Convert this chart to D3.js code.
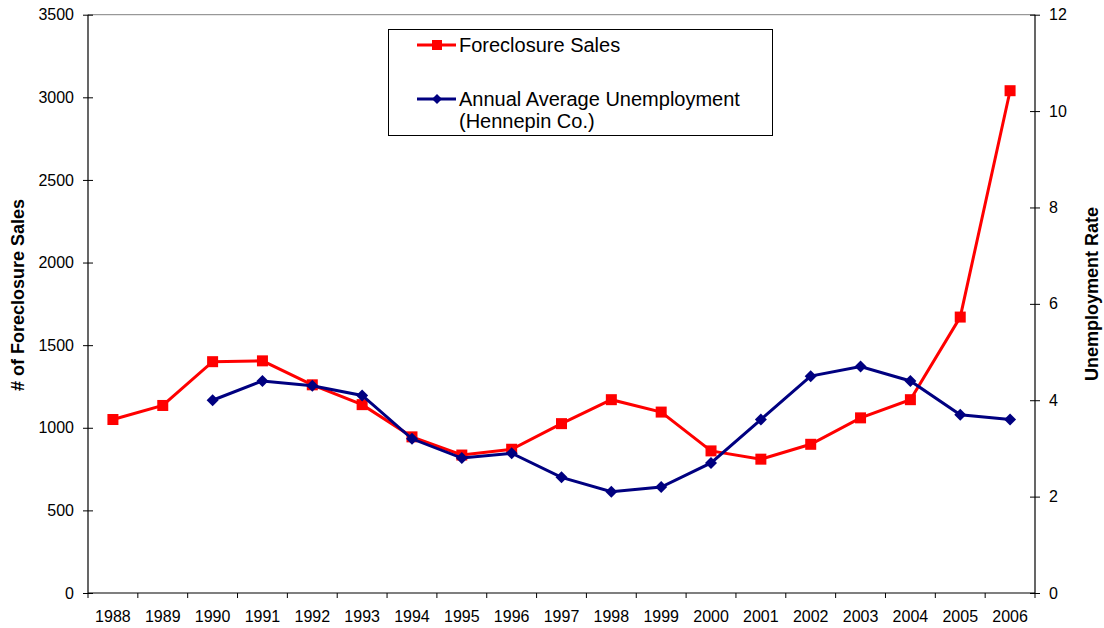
<!DOCTYPE html>
<html>
<head>
<meta charset="utf-8">
<script src="https://cdn.jsdelivr.net/npm/d3@7"></script>
<style>
  body { margin: 0; background: #fff; }
  text { font-family: "Liberation Sans", Arial, sans-serif; fill: #000; }
</style>
</head>
<body>
<svg id="chart" width="1104" height="628"></svg>
<script>
var years = ["1988","1989","1990","1991","1992","1993","1994","1995","1996","1997",
             "1998","1999","2000","2001","2002","2003","2004","2005","2006"]
var foreclosures = [1050,1135,1400,1405,1260,1140,945,835,870,1025,
                    1170,1095,860,810,900,1060,1170,1670,3040]
// unemployment starts in 1990
var unemp_years = years.slice(2)
var unemployment = [4.0,4.4,4.3,4.1,3.2,2.8,2.9,2.4,2.1,2.2,2.7,3.6,4.5,4.7,4.4,3.7,3.6]
var left_ticks = [0,500,1000,1500,2000,2500,3000,3500]
var right_ticks = [0,2,4,6,8,10,12]

var svg = d3.select("#chart")
var plot_l = 88, plot_r = 1035, plot_t = 14.7, plot_b = 593

var x = d3.scaleBand().domain(years).range([plot_l, plot_r])
var yL = d3.scaleLinear().domain([0, 3500]).range([plot_b, plot_t])
var yR = d3.scaleLinear().domain([0, 12]).range([plot_b, plot_t])

// plot border top
svg.append("line")
  .attr("x1", plot_l).attr("x2", plot_r)
  .attr("y1", plot_t).attr("y2", plot_t)
  .attr("stroke", "#808080").attr("stroke-width", 1)

// left axis
var gl = svg.append("g").attr("transform", `translate(${plot_l},0)`)
  .call(d3.axisLeft(yL).tickValues(left_ticks).tickSize(5).tickPadding(9).tickFormat(d3.format("d")))
gl.selectAll(".tick line").attr("x2", 5).attr("x1", -5)
// right axis
var gr = svg.append("g").attr("transform", `translate(${plot_r},0)`)
  .call(d3.axisRight(yR).tickValues(right_ticks).tickSize(5).tickPadding(9))
gr.selectAll(".tick line").attr("x1", -5).attr("x2", 5)
// bottom axis: ticks between categories
var gb = svg.append("g").attr("transform", `translate(0,${plot_b})`)
  .call(d3.axisBottom(x).tickSize(0).tickPadding(18))
gb.selectAll(".tick line").remove()
gb.selectAll(".tick-sep")
  .data(years.concat(["end"]))
  .enter().append("line")
  .attr("x1", (d, i) => plot_l + i * x.bandwidth())
  .attr("x2", (d, i) => plot_l + i * x.bandwidth())
  .attr("y1", 0).attr("y2", 5)
  .attr("stroke", "#000")

;[gl, gr, gb].forEach(g => {
  g.select(".domain").attr("stroke", "#000").attr("stroke-width", 1.2)
  g.selectAll(".tick line").attr("stroke", "#000")
  g.selectAll("text").style("font-size", "16px").attr("font-family", "Liberation Sans, Arial, sans-serif")
})
gl.select(".domain").attr("d", `M0,${plot_t}V${plot_b}`)
gr.select(".domain").attr("d", `M0,${plot_t}V${plot_b}`)
gb.select(".domain").attr("d", `M${plot_l},0H${plot_r}`)

// axis titles
svg.append("text")
  .attr("transform", "translate(24,295) rotate(-90)")
  .attr("text-anchor", "middle")
  .style("font-size", "18px").style("font-weight", "bold")
  .text("# of Foreclosure Sales")
svg.append("text")
  .attr("transform", "translate(1098,294) rotate(-90)")
  .attr("text-anchor", "middle")
  .style("font-size", "18px").style("font-weight", "bold")
  .text("Unemployment Rate")

var cx = d => x(d) + x.bandwidth() / 2

// foreclosure line
svg.append("path")
  .datum(foreclosures)
  .attr("fill", "none").attr("stroke", "#ff0000").attr("stroke-width", 3)
  .attr("d", d3.line().x((d, i) => cx(years[i])).y(d => yL(d)))
svg.selectAll(".sq")
  .data(foreclosures)
  .enter().append("rect")
  .attr("class", "sq")
  .attr("x", (d, i) => cx(years[i]) - 5.5)
  .attr("y", d => yL(d) - 5.5)
  .attr("width", 11).attr("height", 11)
  .attr("fill", "#ff0000")

// unemployment line
svg.append("path")
  .datum(unemployment)
  .attr("fill", "none").attr("stroke", "#000080").attr("stroke-width", 3)
  .attr("d", d3.line().x((d, i) => cx(unemp_years[i])).y(d => yR(d)))
svg.selectAll(".dia")
  .data(unemployment)
  .enter().append("path")
  .attr("class", "dia")
  .attr("transform", (d, i) => `translate(${cx(unemp_years[i])},${yR(d)})`)
  .attr("d", "M0,-6L6,0L0,6L-6,0Z")
  .attr("fill", "#000080")

// legend
var lg = svg.append("g")
lg.append("rect")
  .attr("x", 388.5).attr("y", 29.5).attr("width", 384).attr("height", 106)
  .attr("fill", "#fff").attr("stroke", "#000").attr("stroke-width", 1)
lg.append("line").attr("x1", 417).attr("x2", 456).attr("y1", 45).attr("y2", 45)
  .attr("stroke", "#ff0000").attr("stroke-width", 3)
lg.append("rect").attr("x", 432).attr("y", 40).attr("width", 10).attr("height", 10)
  .attr("fill", "#ff0000")
lg.append("line").attr("x1", 417).attr("x2", 456).attr("y1", 99).attr("y2", 99)
  .attr("stroke", "#000080").attr("stroke-width", 3)
lg.append("path").attr("transform", "translate(437,99)")
  .attr("d", "M0,-5L5,0L0,5L-5,0Z").attr("fill", "#000080")
lg.append("text").attr("x", 459).attr("y", 52).style("font-size", "20px").text("Foreclosure Sales")
lg.append("text").attr("x", 459).attr("y", 106).style("font-size", "20px").text("Annual Average Unemployment")
lg.append("text").attr("x", 459).attr("y", 128).style("font-size", "20px").text("(Hennepin Co.)")
</script>
</body>
</html>
